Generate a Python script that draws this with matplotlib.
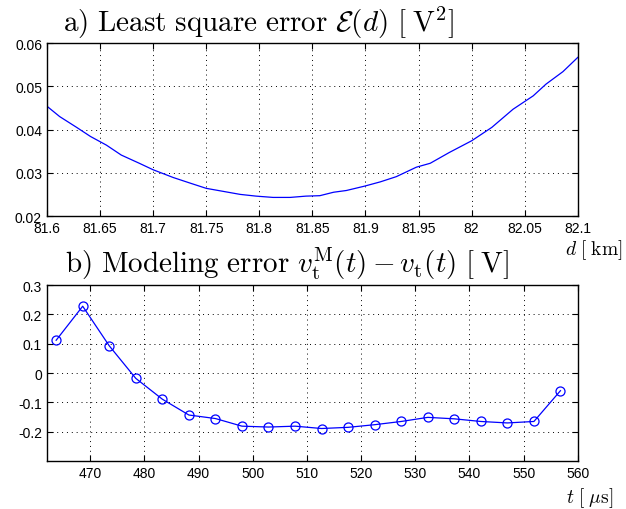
import numpy as np
import matplotlib
matplotlib.use("Agg")
import matplotlib.pyplot as plt
from matplotlib.ticker import FuncFormatter

plt.rcParams['font.family'] = ['Liberation Sans', 'DejaVu Sans']
plt.rcParams['mathtext.fontset'] = 'cm'
plt.rcParams['axes.unicode_minus'] = False

# a) least square error vs distance
d_km = [81.600, 81.612, 81.628, 81.641, 81.656, 81.670, 81.687, 81.700, 81.719,
        81.735, 81.750, 81.766, 81.782, 81.797, 81.813, 81.829, 81.844, 81.857,
        81.870, 81.882, 81.899, 81.914, 81.929, 81.948, 81.961, 81.979, 82.000,
        82.019, 82.039, 82.058, 82.070, 82.086, 82.100]
lse = [0.0454, 0.0430, 0.0405, 0.0384, 0.0364, 0.0341, 0.0322, 0.0307, 0.0289,
       0.0276, 0.0264, 0.0257, 0.0250, 0.0246, 0.0243, 0.0243, 0.0246, 0.0247,
       0.0255, 0.0259, 0.0269, 0.0279, 0.0291, 0.0313, 0.0322, 0.0347, 0.0374,
       0.0405, 0.0447, 0.0478, 0.0505, 0.0534, 0.0567]

# b) modeling error vs time
t_us = [463.7, 468.6, 473.5, 478.4, 483.3, 488.2, 493.1, 498.0, 502.9, 507.8,
        512.7, 517.6, 522.5, 527.4, 532.3, 537.2, 542.1, 547.0, 551.9, 556.8]
err = [0.112, 0.228, 0.093, -0.018, -0.089, -0.143, -0.155, -0.181, -0.184, -0.181,
       -0.189, -0.185, -0.176, -0.165, -0.151, -0.156, -0.165, -0.170, -0.165, -0.060]

fig = plt.figure(figsize=(6.26, 5.10), dpi=100)
ax1 = fig.add_axes([0.075, 0.5745, 0.848, 0.339])
ax2 = fig.add_axes([0.075, 0.094, 0.848, 0.345])

def style(ax):
    ax.tick_params(direction='in', top=True, right=True, labelsize=10, length=4, width=0.8)
    ax.grid(True, linestyle=(0, (1, 4)), color='black', linewidth=0.7)
    for s in ax.spines.values():
        s.set_linewidth(1.0)

fmt = FuncFormatter(lambda v, p: '%g' % round(v, 4))

ax1.plot(d_km, lse, color='blue', linewidth=0.9)
ax1.set_xlim(81.6, 82.1)
ax1.set_ylim(0.02, 0.06)
ax1.set_xticks(np.arange(81.6, 82.1001, 0.05))
ax1.set_yticks([0.02, 0.03, 0.04, 0.05, 0.06])
ax1.xaxis.set_major_formatter(fmt)
ax1.yaxis.set_major_formatter(FuncFormatter(lambda v, p: '%.2f' % v))
style(ax1)
fig.text(0.100, 0.937, r'$\mathrm{a)\ Least\ square\ error}\ \mathcal{E}(d)\ [\;\mathrm{V}^2]$',
         ha='left', va='baseline', fontsize=21)
fig.text(0.995, 0.500, r'$d\ [\;\mathrm{km}]$', ha='right', va='baseline', fontsize=14)

ax2.plot(t_us, err, color='blue', linewidth=0.9, marker='o', markersize=6.5,
         markerfacecolor='none', markeredgecolor='blue', markeredgewidth=0.9)
ax2.set_xlim(462, 560)
ax2.set_ylim(-0.3, 0.3)
ax2.set_xticks(np.arange(470, 561, 10))
ax2.set_yticks([-0.2, -0.1, 0, 0.1, 0.2, 0.3])
ax2.yaxis.set_major_formatter(fmt)
style(ax2)
fig.text(0.104, 0.465, r'$\mathrm{b)\ Modeling\ error}\ v_{\mathrm{t}}^{\mathrm{M}}(t) - v_{\mathrm{t}}(t)\ [\;\mathrm{V}]$',
         ha='left', va='baseline', fontsize=21)
fig.text(0.979, 0.014, r'$t\ [\;\mu\mathrm{s}]$', ha='right', va='baseline', fontsize=14)

fig.savefig('out.png', dpi=100)
